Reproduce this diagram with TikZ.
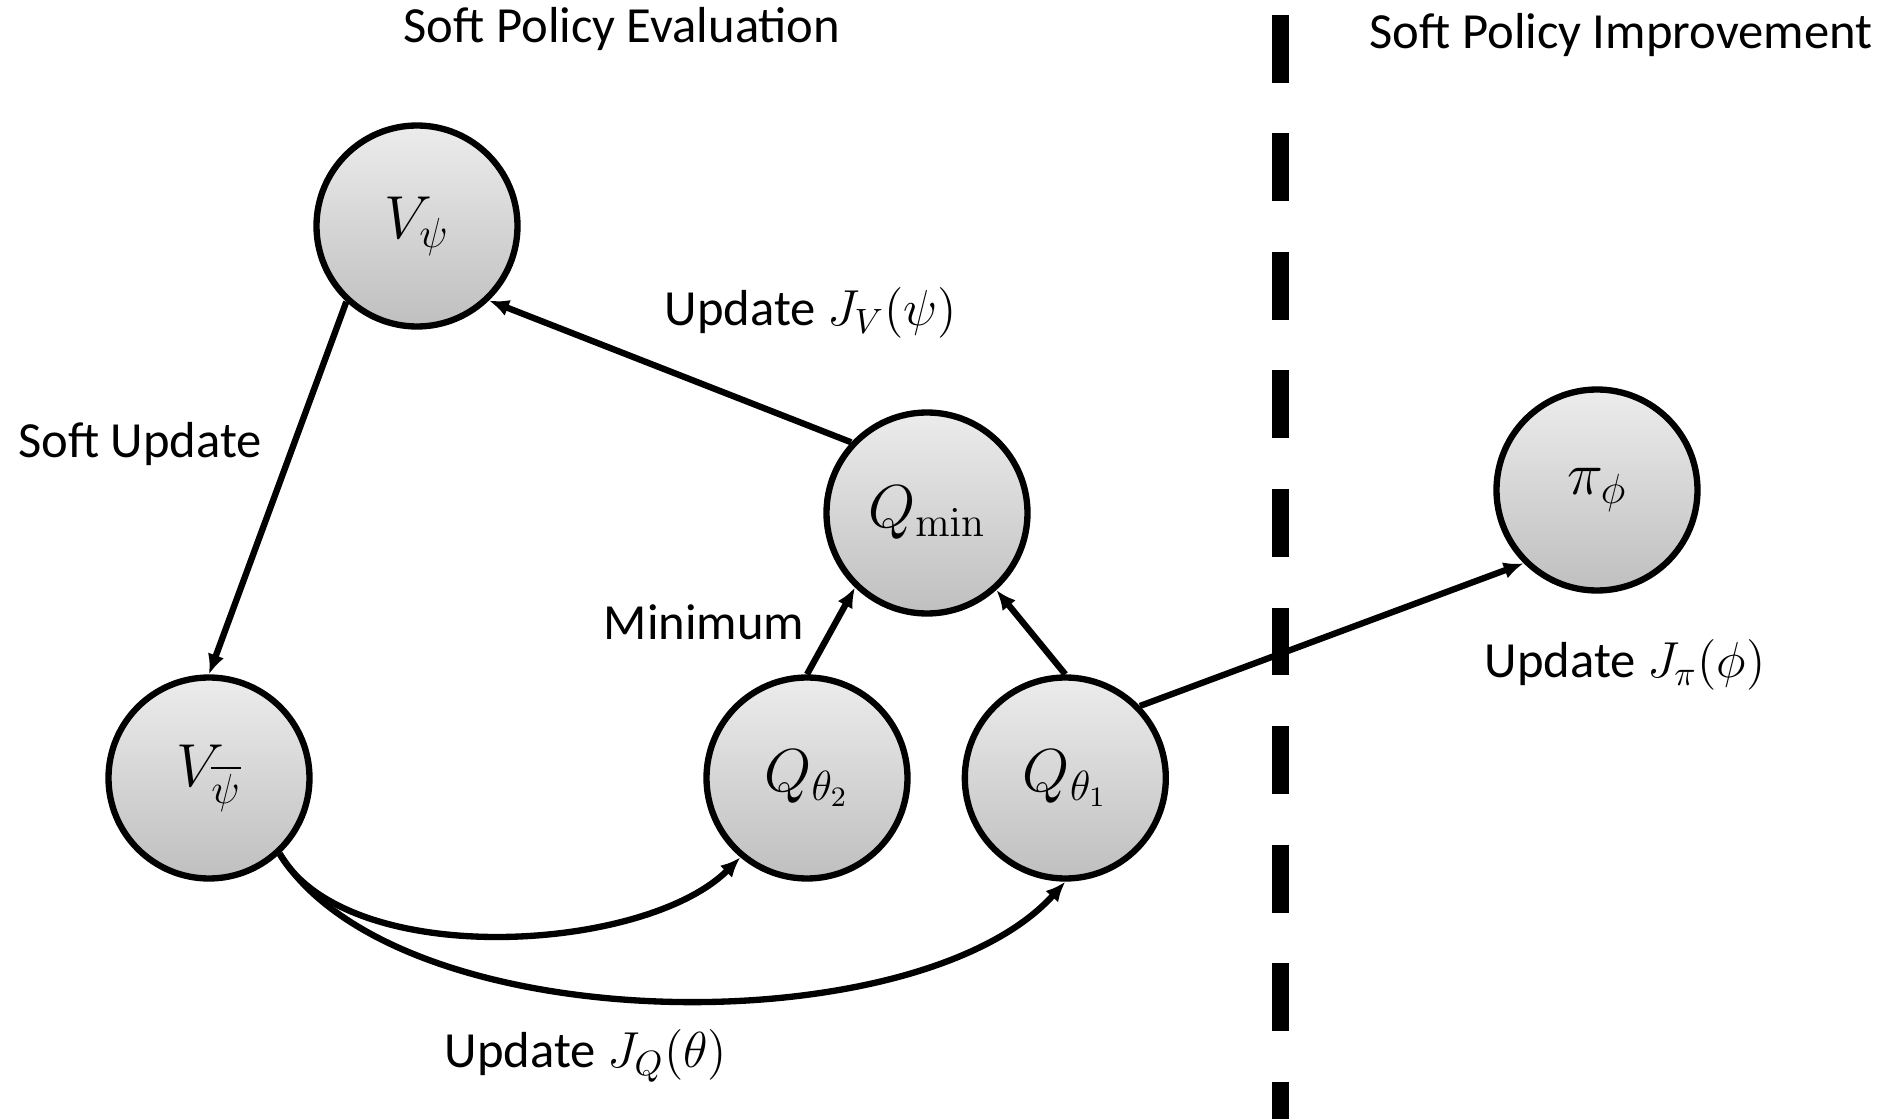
\documentclass[tikz,border=0pt]{standalone}
\usepackage{amsmath}
\usepackage[no-math]{fontspec}
\setmainfont{Carlito}
\usetikzlibrary{arrows.meta}
\usetikzlibrary{positioning}

\begin{document}
\begin{tikzpicture}[>={Latex[length=0.2cm,width=0.17cm]}, line width=1.8pt,
                    every node/.style={font=\fontsize{14.4}{17}\selectfont},
                    net/.style={circle, draw=black, line width=1.8pt, minimum size=2.01cm,
                                top color=gray!15, bottom color=gray!50,
                                font=\fontsize{17}{20}\selectfont}]
\useasboundingbox (0,0) rectangle (19.04,11.19);

% value, target and critic networks
\node[net] (Vpsi) at (4.17,8.93) {$V_{\psi}$};
\node[net] (Vbar) at (2.09,3.41) {$V_{\overline{\psi}}$};
\node[net] (Qmin) at (9.27,6.06) {$Q_{\min}$};
\node[net] (Qtwo) at (8.07,3.41) {$Q_{\theta_2}$};
\node[net] (Qone) [right=0.51cm of Qtwo] {$Q_{\theta_1}$};
\node[net] (pi) at (15.97,6.29) {$\pi_{\phi}$};

% headings and labels
\node (eval) at (6.22,10.90) {Soft Policy Evaluation};
\node (impr) at (16.21,10.84) {Soft Policy Improvement};
\node (updV) at (8.11,8.06) {Update $J_V(\psi)$};
\node (soft) at (1.40,6.75) {Soft Update};
\node (mini) at (7.04,4.97) {Minimum};
\node (updpi) at (16.25,4.54) {Update $J_\pi(\phi)$};
\node (updQ) at (5.86,0.63) {Update $J_Q(\theta)$};

% separator
\coordinate (sepTop) at (12.80,11.04);
\coordinate (sepBot) at (12.80,0);
\draw[line width=0.17cm, dash pattern=on 0.68cm off 0.505cm] (sepTop) -- (sepBot);

\path[->]
(Vpsi.227) edge (Vbar.north)
(Qmin.137) edge (Vpsi.314)
(Qtwo.north) edge (Qmin.226)
(Qone.north) edge (Qmin.312)
(Qone.44) edge (pi.225)
(Vbar.313) edge [out=-60, in=225, looseness=0.75] (Qtwo.230)
(Vbar.313) edge [out=-58, in=228, looseness=0.72] (Qone.south);
\end{tikzpicture}
\end{document}
